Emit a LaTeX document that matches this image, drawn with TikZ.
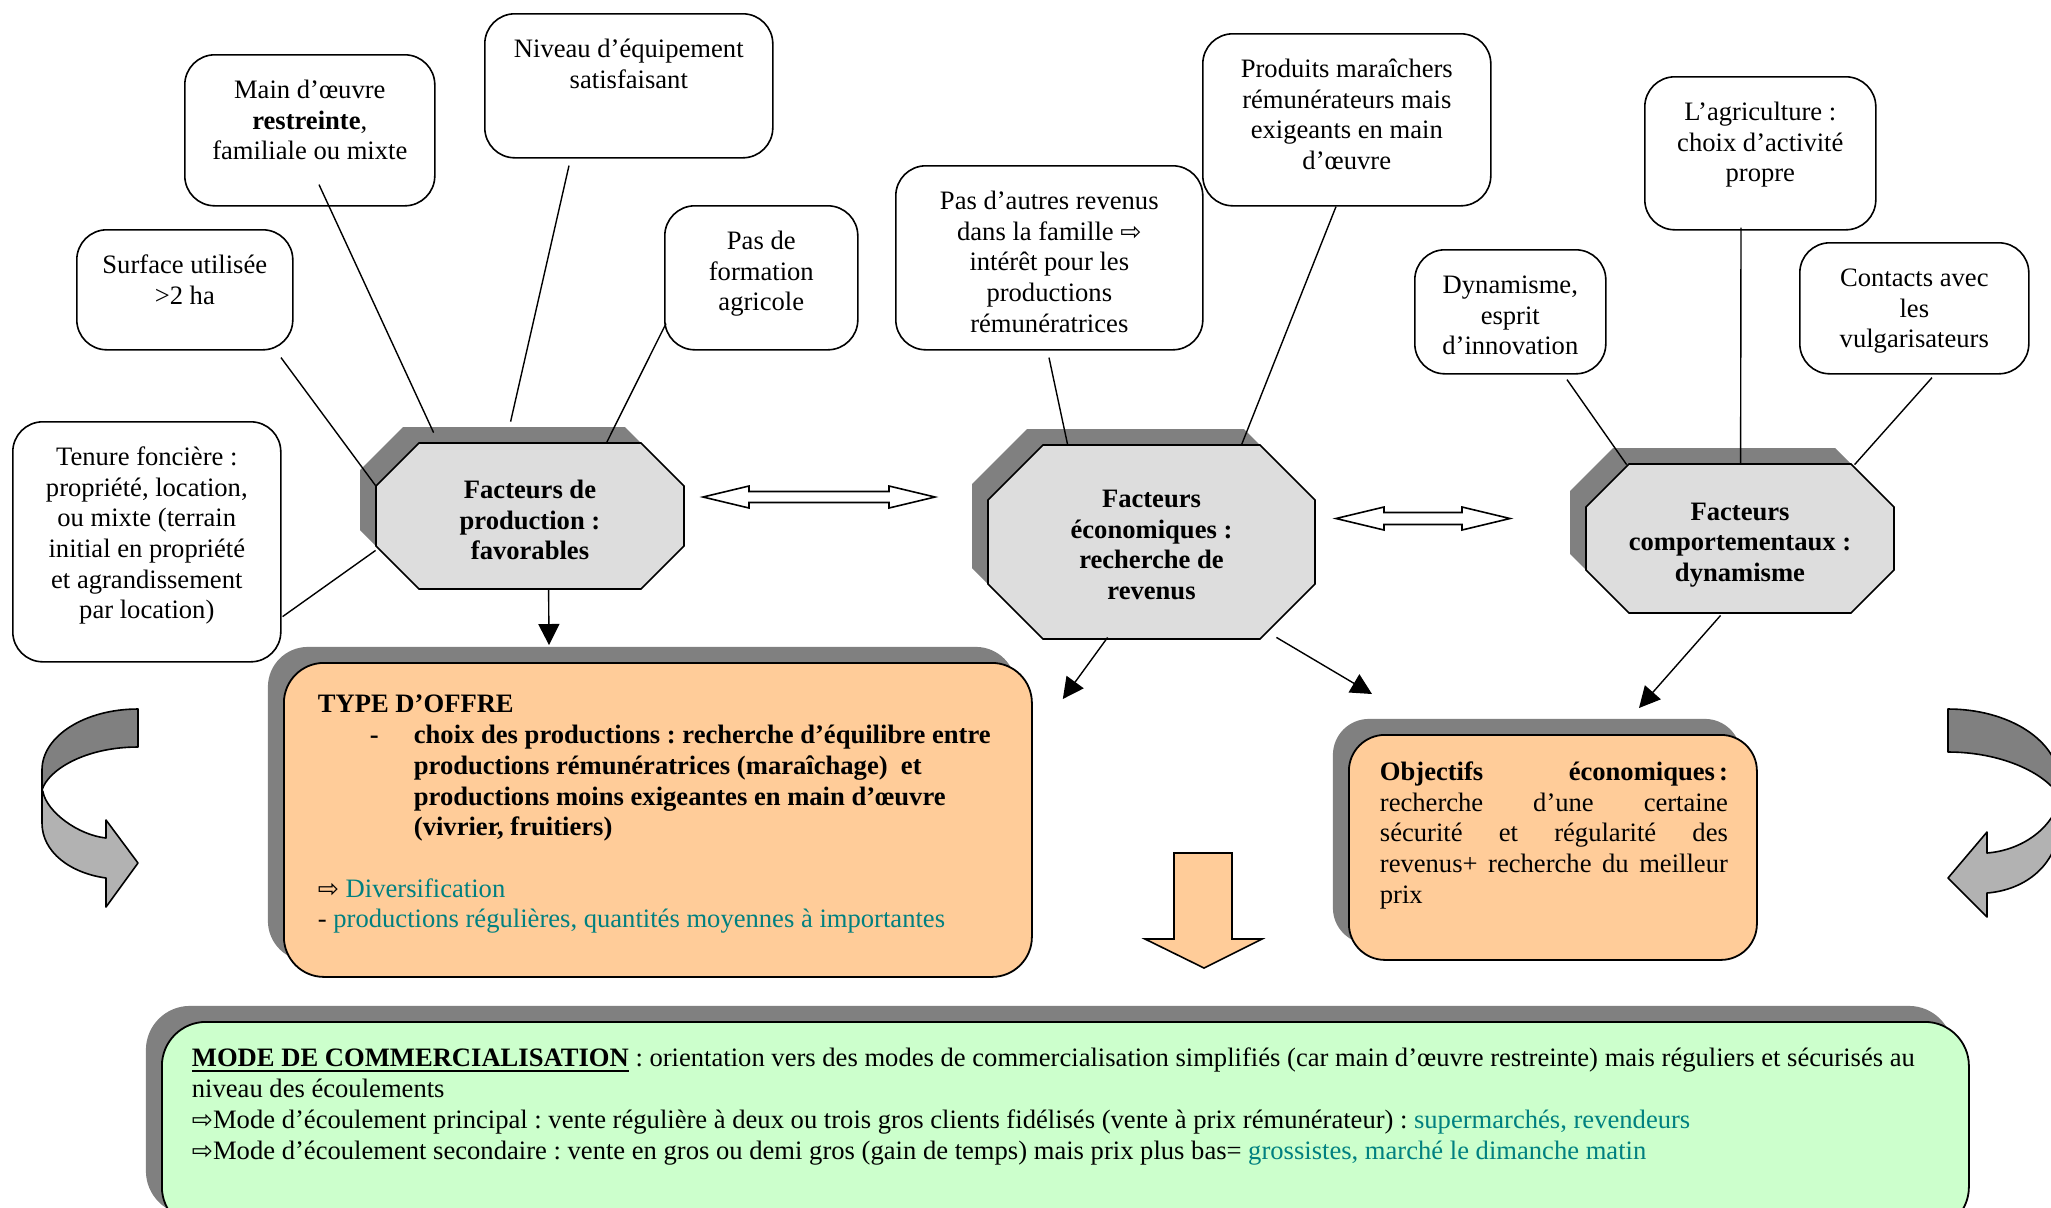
\documentclass[tikz,border=0pt]{standalone}
\usepackage{fontspec}
\setmainfont{Liberation Serif}
\newfontfamily\arrowfont[Scale=0.95]{DejaVu Sans}
\usetikzlibrary{arrows.meta,calc,shadows}

\definecolor{peach}{HTML}{FFCC99}
\definecolor{mint}{HTML}{CCFFCC}
\definecolor{octgray}{HTML}{DDDDDD}
\definecolor{shadegray}{HTML}{808080}
\definecolor{ribbonlight}{HTML}{B2B2B2}
\definecolor{tealtext}{HTML}{008080}

\frenchspacing
% white outlined arrow used inside the texts
\newcommand\warrow{{\arrowfont ⇨}}
% heavy underline for the bold heading
\newcommand\thickul[1]{\setbox0=\hbox{#1}\rlap{\rule[-2.6pt]{\wd0}{1.3pt}}\box0\relax}

% white rounded box, text hung from the top: name, x1, y1, x2, y2, text
\newcommand\infobox[6]{%
  \pgfmathsetmacro\boxwd{(#4-#2)/2}%
  \pgfmathsetmacro\boxht{(#5-#3)/2}%
  \node[whitebox, anchor=north west, minimum width=\boxwd pt, minimum height=\boxht pt] (#1) at (#2,#3)
    {\parbox[c][\boxht pt][t]{\dimexpr\boxwd pt-6pt\relax}{\centering\vspace*{11pt}\strut#6\par}};}

% grey octagon with its shadow: name, x1, y1, x2, y2, chamfer, text, text drop
\newcommand\factorocta[8]{%
  \fill[shadegray, shift={(-16,-16)}] (#2+#6,#3) -- (#4-#6,#3) -- (#4,#3+#6) -- (#4,#5-#6)
     -- (#4-#6,#5) -- (#2+#6,#5) -- (#2,#5-#6) -- (#2,#3+#6) -- cycle;
  \filldraw[octframe] (#2+#6,#3) -- (#4-#6,#3) -- (#4,#3+#6) -- (#4,#5-#6)
     -- (#4-#6,#5) -- (#2+#6,#5) -- (#2,#5-#6) -- (#2,#3+#6) -- cycle;
  \pgfmathsetmacro\boxwd{(#4-#2)/2}%
  \pgfmathsetmacro\boxht{(#5-#3)/2}%
  \node[inner sep=0pt, minimum width=\boxwd pt, minimum height=\boxht pt,
        label={[octlabel, yshift=-#8]center:{#7}}] (#1) at ({(#2+#4)/2},{(#3+#5)/2}) {};}

% horizontal double block arrow: name, x1, x2, y-centre, head length, head half, shaft half
\newcommand\twowayarrow[7]{%
  \filldraw[blockarrow] (#2,#4) -- (#2+#5,#4-#6) -- (#2+#5,#4-#7) -- (#3-#5,#4-#7) -- (#3-#5,#4-#6)
     -- (#3,#4) -- (#3-#5,#4+#6) -- (#3-#5,#4+#7) -- (#2+#5,#4+#7) -- (#2+#5,#4+#6) -- cycle;
  \coordinate (#1) at ({(#2+#3)/2},#4);}

\tikzset{
  every node/.style={font=\fontsize{13.3}{15.35}\selectfont},
  whitebox/.style={draw, fill=white, rounded corners=15pt, line width=0.8pt, inner sep=0pt},
  octframe/.style={draw, fill=octgray, line width=0.8pt, line join=miter},
  octlabel/.style={inner sep=0pt, align=center, font=\fontsize{13.3}{15.35}\selectfont\bfseries},
  link/.style={line width=0.7pt},
  pointer/.style={line width=0.7pt, -{Triangle[length=10.5pt,width=10.5pt]}},
  shadowbox/.style={draw, line width=0.9pt, inner sep=0pt,
    general shadow={fill=shadegray, shadow xshift=-8pt, shadow yshift=8pt}},
  blockarrow/.style={draw, fill=white, line width=0.8pt, line join=miter},
  ribbon/.style={draw, line width=0.8pt, line join=round},
}

\begin{document}
\begin{tikzpicture}[x=0.5pt, y=-0.5pt]
\useasboundingbox (0,0) rectangle (2051,1207);
\clip (0,0) rectangle (2051,1207);

% ---- boxes around "Facteurs de production"
\infobox{bmain}{184}{54}{434}{205}{Main d’œuvre\\\textbf{restreinte},\\familiale ou mixte}
\infobox{bniv}{484}{13}{772}{157}{Niveau d’équipement\\satisfaisant}
\infobox{bsurf}{76}{229}{292}{349}{Surface utilisée\\>2 ha}
\infobox{bform}{664}{205}{857}{349}{Pas de\\formation\\agricole}
\infobox{bten}{12}{421}{280}{661}{Tenure foncière :\\propriété, location,\\ou mixte (terrain\\initial en propriété\\et agrandissement\\par location)}

% ---- boxes around "Facteurs économiques"
\infobox{baut}{895}{165}{1202}{349}{Pas d’autres revenus\\dans la famille \warrow\\intérêt pour les\\productions\\rémunératrices}
\infobox{bprod}{1202}{33}{1490}{205}{Produits maraîchers\\rémunérateurs mais\\exigeants en main\\d’œuvre}

% ---- boxes around "Facteurs comportementaux"
\infobox{bagri}{1644}{76}{1875}{229}{L’agriculture :\\choix d’activité\\propre}
\infobox{bdyn}{1414}{249}{1605}{373}{Dynamisme,\\esprit\\d’innovation}
\infobox{bcont}{1799}{242}{2028}{373}{Contacts avec\\les\\vulgarisateurs}

% ---- the three factor octagons
\factorocta{o1}{376}{443}{684}{589}{43}{Facteurs de\\production :\\favorables}{2pt}
\factorocta{o2}{988}{445}{1315}{639}{55}{Facteurs\\économiques :\\recherche de\\revenus}{1.5pt}
\factorocta{o3}{1586}{464}{1894}{613}{43}{Facteurs\\comportementaux :\\dynamisme}{3.25pt}

% ---- double arrows between the octagons
\twowayarrow{da1}{703}{935}{497}{46}{11}{5.5}
\twowayarrow{da2}{1336}{1510}{518.5}{48}{11.5}{6}

% ---- result boxes
\node[shadowbox, fill=peach, rounded corners=20pt, anchor=north west,
      minimum width=374pt, minimum height=157pt] (toffre) at (283,662)
  {\parbox[c][157pt][t]{374pt}{\raggedright\leftskip=17pt\vspace*{14.25pt}\strut\textbf{TYPE D’OFFRE}\\
   \hspace*{26pt}\makebox[22pt][l]{\textbf{-}}\textbf{choix des productions : recherche d’équilibre entre}\\
   \hspace*{48pt}\textbf{productions rémunératrices (maraîchage)\ \ et}\\
   \hspace*{48pt}\textbf{productions moins exigeantes en main d’œuvre}\\
   \hspace*{48pt}\textbf{(vivrier, fruitiers)}\\
   \mbox{}\\
   \warrow\ \textcolor{tealtext}{Diversification}\\
   - \textcolor{tealtext}{productions régulières, quantités moyennes à importantes}\par}};

\node[shadowbox, fill=peach, rounded corners=18pt, anchor=north west,
      minimum width=204pt, minimum height=112.5pt] (objectifs) at (1348,734)
  {\parbox[c][112.5pt][t]{204pt}{\leftskip=15.5pt\vspace*{12pt}\noindent\strut
   \makebox[174pt][s]{\textbf{Objectifs} \textbf{économiques\kern2pt:}}\\
   \makebox[174pt][s]{recherche d’une certaine}\\
   \makebox[174pt][s]{sécurité et régularité des}\\
   \makebox[174pt][s]{revenus+ recherche du meilleur}\\
   prix\par}};

\node[shadowbox, fill=mint, rounded corners=22pt, anchor=north west,
      minimum width=903.5pt, minimum height=104.5pt] (mode) at (161,1021)
  {\parbox[c][104.5pt][t]{903.5pt}{\raggedright\leftskip=15pt\vspace*{11.75pt}\strut
   \thickul{\textbf{MODE DE COMMERCIALISATION}} : orientation vers des modes de commercialisation simplifiés (car main d’œuvre restreinte) mais réguliers et sécurisés au\\
   niveau des écoulements\\
   \warrow Mode d’écoulement principal : vente régulière à deux ou trois gros clients fidélisés (vente à prix rémunérateur) : \textcolor{tealtext}{supermarchés, revendeurs}\\
   \warrow Mode d’écoulement secondaire : vente en gros ou demi gros (gain de temps) mais prix plus bas= \textcolor{tealtext}{grossistes, marché le dimanche matin}\par}};

% ---- orange block arrow pointing down to the marketing box
\filldraw[blockarrow, fill=peach] (1174,853) -- (1232,853) -- (1232,939) -- (1262,939)
  -- (1204,968) -- (1145,939) -- (1174,939) -- cycle;

% ---- curved ribbon arrows on both sides
\filldraw[ribbon, fill=shadegray] (138,709) .. controls (85,709) and (42,736) .. (42,770)
  -- (42,790) .. controls (48,770) and (85,747) .. (138,747) -- cycle;
\filldraw[ribbon, fill=ribbonlight] (42,790) -- (42,823) .. controls (42,852) and (70,873) .. (106,878)
  -- (106,907) -- (138,863) -- (106,820) -- (106,838) .. controls (78,835) and (47,812) .. (43,792) -- cycle;

\filldraw[ribbon, fill=shadegray] (1948,709) .. controls (2008,709) and (2060,740) .. (2060,785)
  -- (2060,797) .. controls (2045,772) and (2000,752) .. (1948,752) -- cycle;
\filldraw[ribbon, fill=ribbonlight] (2060,797) -- (2060,818) .. controls (2060,865) and (2025,890) .. (1987,893)
  -- (1987,917) -- (1948,878) -- (1987,832) -- (1987,853) .. controls (2025,850) and (2055,825) .. (2060,797) -- cycle;

% ---- links from the boxes to the octagons
\draw[link] ([shift={(205,7)}]bsurf.south west) -- ([shift={(0,43)}]o1.north west);
\draw[link] ([shift={(135,-22)}]bmain.south west) -- ([shift={(58,-10)}]o1.north west);
\draw[link] ([shift={(85,7)}]bniv.south west) -- ([shift={(135,-21)}]o1.north west);
\draw[link] ([shift={(2,-27)}]bform.south west) -- ([shift={(231,0)}]o1.north west);
\draw[link] ([shift={(1,-46)}]bten.south east) -- ([shift={(0,-39)}]o1.south west);

\draw[link] ([shift={(154,7)}]baut.south west) -- ([shift={(80,0)}]o2.north west);
\draw[link] ([shift={(134,0)}]bprod.south west) -- ([shift={(254,0)}]o2.north west);

\draw[link] ([shift={(153,5)}]bdyn.south west) -- ([shift={(41,1)}]o3.north west);
\draw[link] ([shift={(97,-3)}]bagri.south west) -- ([shift={(155,0)}]o3.north west);
\draw[link] ([shift={(133,3)}]bcont.south west) -- ([shift={(269,1)}]o3.north west);

% ---- arrows from the octagons to the results
\draw[pointer] ([shift={(173,-1)}]o1.south west) -- ([shift={(266,-17)}]toffre.north west);
\draw[pointer] ([shift={(120,-2)}]o2.south west) -- ([shift={(30,37)}]toffre.north east);
\draw[pointer] ([shift={(-39,-2)}]o2.south east) -- ([shift={(24,-40)}]objectifs.north west);
\draw[pointer] ([shift={(135,2)}]o3.south west) -- ([shift={(291,-26)}]objectifs.north west);
\end{tikzpicture}
\end{document}
